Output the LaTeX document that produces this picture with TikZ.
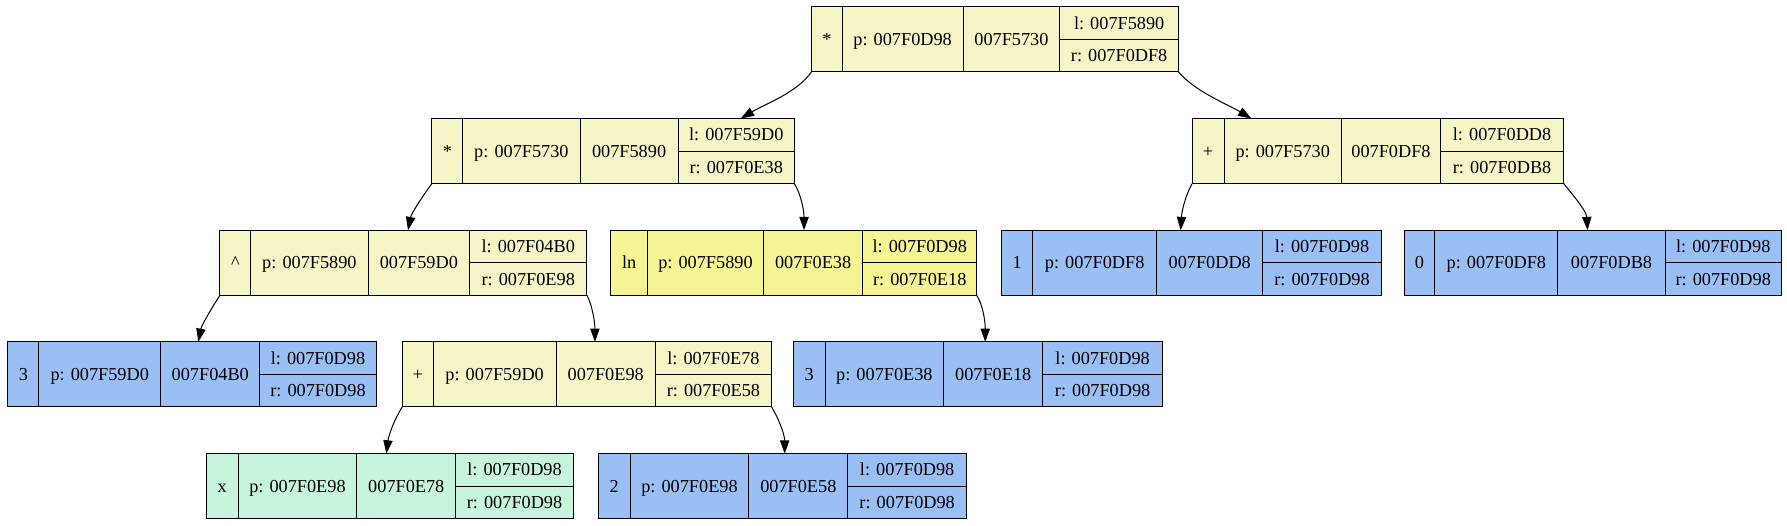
\documentclass[tikz,border=0pt]{standalone}
\usepackage{fontspec}
\setmainfont{Liberation Serif}
\usetikzlibrary{arrows.meta,fit}
\definecolor{opy}{HTML}{F5F5C8}
\definecolor{lny}{HTML}{F5F596}
\definecolor{blu}{HTML}{99BFF5}
\definecolor{grn}{HTML}{C6F4DC}
\begin{document}
\begin{tikzpicture}[x=0.8548pt,y=-0.8548pt,
  rec/.style={draw=black,line width=0.75pt,inner sep=0pt,outer sep=0pt},
  txt/.style={anchor=base,yshift=-4.6pt,inner sep=0pt,font=\fontsize{13.7}{16}\selectfont},
  div/.style={draw=black,line width=0.75pt},
  edge/.style={draw=black,line width=0.75pt,-{Triangle[length=10pt,width=7pt]}}]
\fill[white] (0,0) rectangle (1568,461);
\useasboundingbox (0,0) rectangle (1568,461);
\foreach \nm/\xa/\xb/\xc/\xd/\xe/\yt/\col/\opx/\pp/\ad/\lft/\rgt in {
  root/712/739/845/930/1034/6/opy/{*}/007F0D98/007F5730/007F5890/007F0DF8,
  l1a/379/406/509/595/697/104/opy/{*}/007F5730/007F5890/007F59D0/007F0E38,
  l1b/1046/1074/1177/1264/1372/104/opy/{+}/007F5730/007F0DF8/007F0DD8/007F0DB8,
  l2a/193/220/323/412/515/202/opy/{\textasciicircum}/007F5890/007F59D0/007F04B0/007F0E98,
  l2b/536/568/670/757/857/202/lny/{ln}/007F5890/007F0E38/007F0D98/007F0E18,
  l2c/879/906/1015/1108/1212/202/blu/{1}/007F0DF8/007F0DD8/007F0D98/007F0D98,
  l2d/1232/1259/1367/1461/1563/202/blu/{0}/007F0DF8/007F0DB8/007F0D98/007F0D98,
  l3a/7/34/141/228/330/300/blu/{3}/007F59D0/007F04B0/007F0D98/007F0D98,
  l3b/353/380/488/575/677/300/opy/{+}/007F59D0/007F0E98/007F0E78/007F0E58,
  l3c/696/724/828/915/1020/300/blu/{3}/007F0E38/007F0E18/007F0D98/007F0D98,
  l4a/181/209/313/400/503/398/grn/{x}/007F0E98/007F0E78/007F0D98/007F0D98,
  l4b/525/553/657/744/848/398/blu/{2}/007F0E98/007F0E58/007F0D98/007F0D98}{
  \node[rec,fill=\col,fit={(\xa,\yt) (\xe,\yt+57)}] (\nm) {};
  \draw[div] (\xb,\yt) -- (\xb,\yt+57) (\xc,\yt) -- (\xc,\yt+57)
             (\xd,\yt) -- (\xd,\yt+57) (\xd,\yt+28.5) -- (\xe,\yt+28.5);
  \node[txt] (\nm-op) at ({(\xa+\xb)/2},\yt+28.5) {\opx};
  \node[txt] (\nm-p)  at ({(\xb+\xc)/2},\yt+28.5) {p: \pp};
  \node[txt] (\nm-ad) at ({(\xc+\xd)/2},\yt+28.5) {\ad};
  \node[txt] (\nm-l)  at ({(\xd+\xe)/2},\yt+14.25) {l: \lft};
  \node[txt] (\nm-r)  at ({(\xd+\xe)/2},\yt+42.75) {r: \rgt};
}
\coordinate (h-l1a) at (650,104);
\coordinate (h-l1b) at (1098,104);
\coordinate (h-l2a) at (358,202);
\coordinate (h-l2b) at (705.5,202);
\coordinate (h-l2c) at (1036,202);
\coordinate (h-l2d) at (1393,202);
\coordinate (h-l3a) at (174,300);
\coordinate (h-l3b) at (522,300);
\coordinate (h-l3c) at (864.5,300);
\coordinate (h-l4a) at (339,398);
\coordinate (h-l4b) at (688.5,398);
\draw[edge] (root.south west) .. controls +(-12,18) and +(20,-12) .. (h-l1a);
\draw[edge] (root.south east) .. controls +(14,17) and +(-20,-12) .. (h-l1b);
\draw[edge] (l1a.south west) .. controls +(-8,11) and +(3,-15) .. (h-l2a);
\draw[edge] (l1a.south east) .. controls +(6,10) and +(0,-17) .. (h-l2b);
\draw[edge] (l1b.south west) .. controls +(-6,11) and +(1,-17) .. (h-l2c);
\draw[edge] (l1b.south east) .. controls +(8,10) and +(-1,-17) .. (h-l2d);
\draw[edge] (l2a.south west) .. controls +(-7,11) and +(3,-15) .. (h-l3a);
\draw[edge] (l2a.south east) .. controls +(5,10) and +(0,-17) .. (h-l3b);
\draw[edge] (l2b.south east) .. controls +(6,10) and +(0,-17) .. (h-l3c);
\draw[edge] (l3b.south west) .. controls +(-7,11) and +(2,-16) .. (h-l4a);
\draw[edge] (l3b.south east) .. controls +(6,10) and +(0,-17) .. (h-l4b);
\end{tikzpicture}
\end{document}
